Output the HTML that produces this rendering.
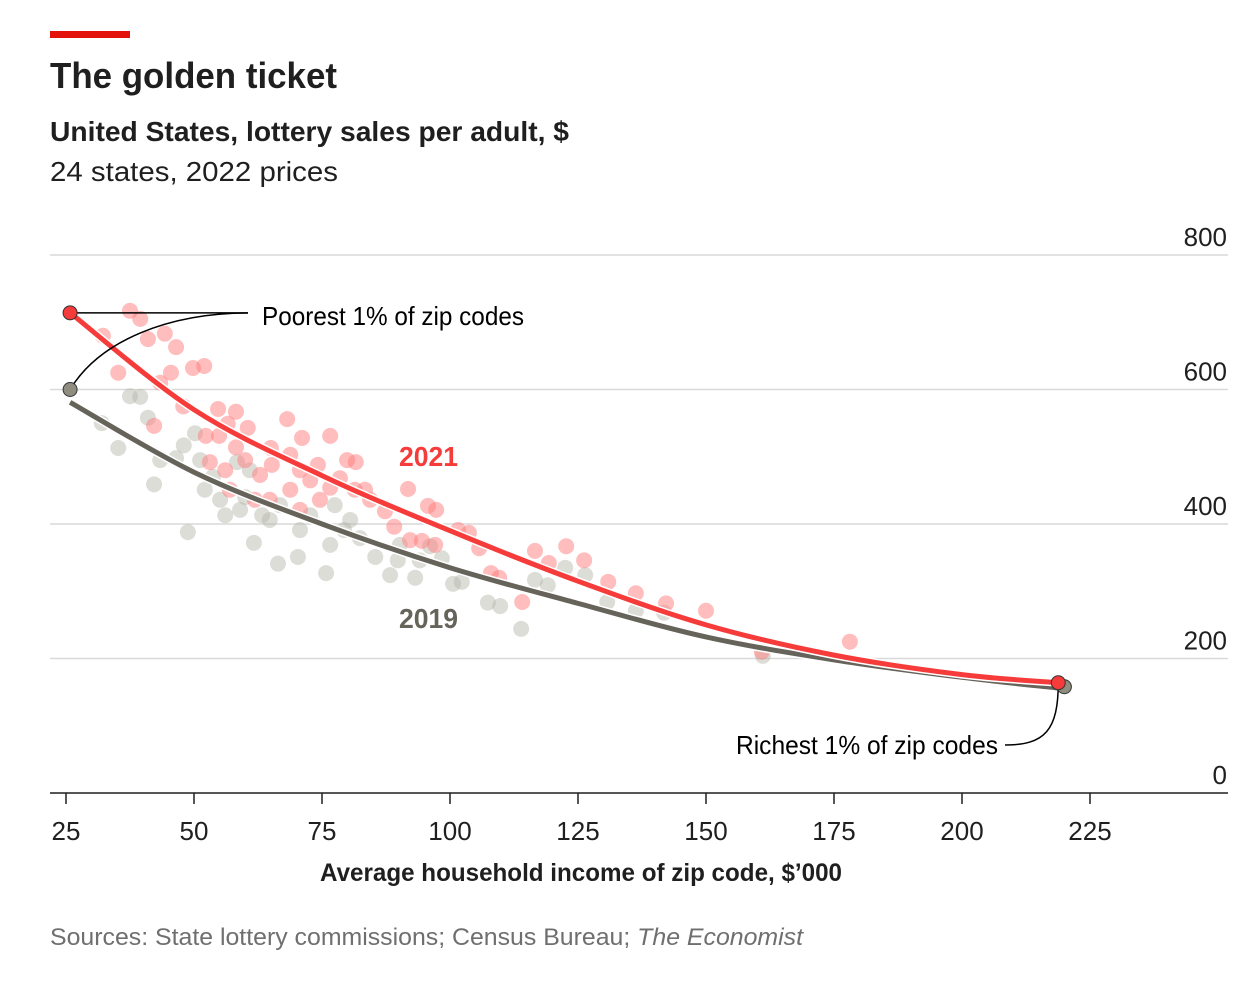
<!DOCTYPE html>
<html><head><meta charset="utf-8"><style>
html,body{margin:0;padding:0;background:#fff;}
svg{display:block;font-family:"Liberation Sans Narrow","Liberation Sans",sans-serif;}
</style></head><body>
<svg id="chart" width="1260" height="990" viewBox="0 0 1260 990" xmlns="http://www.w3.org/2000/svg">
<rect x="50" y="31" width="80" height="7" fill="#e3120b"/>
<text x="50" y="88" font-size="36" font-weight="bold" fill="#1f1f1f" textLength="287" lengthAdjust="spacingAndGlyphs">The golden ticket</text>
<text x="50" y="141" font-size="28" font-weight="bold" fill="#1f1f1f" textLength="519" lengthAdjust="spacingAndGlyphs">United States, lottery sales per adult, $</text>
<text x="50" y="181" font-size="28" fill="#1f1f1f" textLength="288" lengthAdjust="spacingAndGlyphs">24 states, 2022 prices</text>
<g id="grid"></g>
<g id="dots"></g>
<g id="lines"></g>
<g id="ann"></g>
<text x="320" y="881" font-size="25" font-weight="bold" fill="#1f1f1f" textLength="522" lengthAdjust="spacingAndGlyphs">Average household income of zip code, $’000</text>
<text x="50" y="945" font-size="24" fill="#6f6f6f" textLength="753" lengthAdjust="spacingAndGlyphs">Sources: State lottery commissions; Census Bureau; <tspan font-style="italic">The Economist</tspan></text>
</svg>
<script>
const xTicks=[25,50,75,100,125,150,175,200,225];
const yTicks=[0,200,400,600,800];
const red21X=[32.2,37.5,39.5,41.0,44.3,46.5,35.2,43.4,45.5,49.8,52.0,47.9,54.7,58.2,42.2,56.6,52.3,54.9,60.5,65.0,68.2,71.1,76.6,74.2,79.9,81.6,83.4,76.6,87.3,91.8,95.7,97.3,89.1,92.2,94.5,97.1,101.6,103.7,105.7,108.0,109.6,114.1,116.6,119.3,122.7,126.2,130.9,136.3,142.2,150.0,160.9,178.1,62.9,65.2,60.0,58.2,53.1,56.1,68.8,70.7,72.7,78.5,81.4,84.4,68.8,74.6,64.8,70.7,57.0,61.9];
const red21Y=[680,717,705,675,683,663,625,610,625,632,635,575,571,567,546,549,531,531,543,513,556,528,531,488,495,492,451,454,419,452,427,421,396,376,375,369,391,387,364,327,320,284,360,342,367,346,314,297,282,271,210,225,473,488,495,514,492,480,503,480,465,468,451,436,451,436,436,421,451,436];
const gray19X=[32.0,35.2,37.5,39.5,41.0,42.2,43.4,46.5,48.8,48.0,50.2,52.1,53.7,56.1,58.4,60.0,61.7,63.3,66.4,70.3,75.8,77.5,79.3,82.4,85.4,88.3,89.8,93.2,96.1,98.4,100.6,102.3,107.4,109.8,113.9,116.6,119.1,122.5,126.4,130.7,136.3,141.8,161.1,55.1,59.0,64.8,70.7,72.7,76.6,66.8,80.5,90.2,94.1,60.9,51.2];
const gray19Y=[550,513,590,589,558,459,495,498,388,517,535,451,470,413,492,440,372,413,341,351,327,428,391,379,351,324,346,320,367,349,311,314,283,278,244,317,309,335,324,284,271,268,204,436,421,406,391,413,369,428,406,369,346,480,495];
const fitX=[25.8,50,75,100,125,150,175,200,218.8];
const fit21Y=[714,570,472,390,315,250,205,176,164];
const fit19Y=[581,477,400,335,282,232,198,172,156];
const endX21=[25.8,218.8], endY21=[714,164];
const endX19=[25.8,220], endY19=[600,158];

const NS="http://www.w3.org/2000/svg";
const sx=v=>66+(v-25)*5.12;
const sy=v=>793-v*0.6725;
function mk(tag,attrs,parent){const e=document.createElementNS(NS,tag);for(const k in attrs)e.setAttribute(k,attrs[k]);parent.appendChild(e);return e;}
const grid=document.getElementById('grid'),dots=document.getElementById('dots'),lines=document.getElementById('lines'),ann=document.getElementById('ann');

yTicks.forEach(t=>{
  if(t>0){const l=mk('line',{x1:50,x2:1228,y1:sy(t),y2:sy(t),stroke:'#d9d9d9','stroke-width':1.5},grid);
  
  }
  const tx=mk('text',{x:1227,y:sy(t)-9,'font-size':26,'text-anchor':'end',fill:'#1f1f1f'},grid);
  tx.textContent=t;
  
  
});
const ax=mk('line',{x1:50,x2:1228,y1:793,y2:793,stroke:'#1f1f1f','stroke-width':1.5},grid);


xTicks.forEach(t=>{
  const tk=mk('line',{x1:sx(t),x2:sx(t),y1:793,y2:804,stroke:'#1f1f1f','stroke-width':1.5},grid);
  
  
  const tx=mk('text',{x:sx(t),y:840,'font-size':26,'text-anchor':'middle',fill:'#1f1f1f'},grid);
  tx.textContent=t;
  
  
});
gray19X.forEach((x,i)=>{
  const c=mk('circle',{cx:sx(x),cy:sy(gray19Y[i]),r:8,fill:'#b4b3a8','fill-opacity':0.45},dots);
  
  
});
red21X.forEach((x,i)=>{
  const c=mk('circle',{cx:sx(x),cy:sy(red21Y[i]),r:8,fill:'#ff7b7b','fill-opacity':0.5},dots);
  
  
});
function curve(xs,ys){
  const p=xs.map((x,i)=>[sx(x),sy(ys[i])]);
  let d='M'+p[0][0]+','+p[0][1];
  for(let i=0;i<p.length-1;i++){
    const p0=p[i-1]||p[i],p1=p[i],p2=p[i+1],p3=p[i+2]||p2;
    d+=' C'+(p1[0]+(p2[0]-p0[0])/6)+','+(p1[1]+(p2[1]-p0[1])/6)+' '+(p2[0]-(p3[0]-p1[0])/6)+','+(p2[1]-(p3[1]-p1[1])/6)+' '+p2[0]+','+p2[1];
  }
  return d;
}
const l19w=mk('path',{d:curve(fitX,fit19Y),fill:'none',stroke:'#fff','stroke-width':8},lines);


const l19=mk('path',{d:curve(fitX,fit19Y),fill:'none',stroke:'#66635a','stroke-width':5},lines);


const l21w=mk('path',{d:curve(fitX,fit21Y),fill:'none',stroke:'#fff','stroke-width':8},lines);


const l21=mk('path',{d:curve(fitX,fit21Y),fill:'none',stroke:'#f63b3b','stroke-width':5},lines);



const a1=mk('path',{d:'M'+sx(endX21[0])+','+sy(endY21[0])+' H248',fill:'none',stroke:'#000','stroke-width':1.5},ann);


const a2=mk('path',{d:'M'+sx(endX19[0])+','+sy(endY19[0])+' C100,340 170,313 248,313',fill:'none',stroke:'#000','stroke-width':1.5},ann);


const a3=mk('path',{d:'M1005,745 C1045,745 '+sx(endX21[1])+',730 '+sx(endX21[1])+','+sy(endY21[1]),fill:'none',stroke:'#000','stroke-width':1.5},ann);


[[endX19,endY19,'#8f8d80','2019'],[endX21,endY21,'#f63b3b','2021']].forEach(([xs,ys,col,n])=>{
  xs.forEach((x,i)=>{
    const c=mk('circle',{cx:sx(x),cy:sy(ys[i]),r:7,fill:col,stroke:'#333','stroke-width':1},ann);
    
    
  });
});
const t1=mk('text',{x:262,y:325,'font-size':26,fill:'#000',textLength:262,lengthAdjust:'spacingAndGlyphs'},ann);
t1.textContent='Poorest 1% of zip codes';


const t2=mk('text',{x:736,y:754,'font-size':26,fill:'#000',textLength:262,lengthAdjust:'spacingAndGlyphs'},ann);
t2.textContent='Richest 1% of zip codes';


const t3=mk('text',{x:399,y:466,'font-size':28,'font-weight':'bold',fill:'#f63b3b',textLength:59,lengthAdjust:'spacingAndGlyphs'},ann);
t3.textContent='2021';


const t4=mk('text',{x:399,y:628,'font-size':28,'font-weight':'bold',fill:'#66635a',textLength:59,lengthAdjust:'spacingAndGlyphs'},ann);
t4.textContent='2019';


</script>
</body></html>
